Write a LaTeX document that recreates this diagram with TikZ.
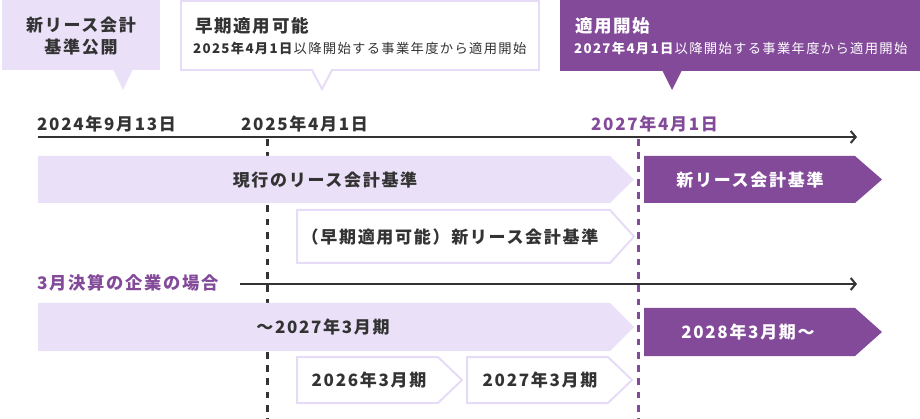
\documentclass[tikz,border=0pt]{standalone}
\usepackage{fontspec}
\setmainfont{Noto Sans CJK JP}[LetterSpace=10]
\usetikzlibrary{arrows.meta}
\definecolor{lightp}{HTML}{EAE1F8}
\definecolor{darkp}{HTML}{834A9A}
\definecolor{txt}{HTML}{333333}
\definecolor{edgep}{HTML}{E6DCF7}
\begin{document}
\begin{tikzpicture}[x=1pt,y=-1pt,
  lbl/.style={inner sep=0pt, text=txt, font=\bfseries\fontsize{17}{22}\selectfont},
  datelbl/.style={inner sep=0pt, anchor=west, text=txt, font=\bfseries\fontsize{17}{20}\selectfont},
  sublbl/.style={inner sep=0pt, anchor=west, text=txt, font=\fontsize{13.3}{16}\selectfont},
  titlelbl/.style={inner sep=0pt, anchor=west, text=txt, font=\bfseries\fontsize{17.5}{20}\selectfont},
  timeline/.style={draw=txt, line width=2pt, -{Straight Barb[length=5pt,width=12pt]}},
  blackdash/.style={draw=txt, line width=3pt, dash pattern=on 6.7pt off 6.6pt},
  purpledot/.style={draw=darkp, line width=3pt, dash pattern=on 6.7pt off 6.6pt},
  lightbar/.style={fill=lightp},
  darkbar/.style={fill=darkp},
  outbar/.style={fill=white, draw=edgep, line width=2pt},
]
\useasboundingbox (0,0) rectangle (920,419);

% ---- top callouts ----
\fill[lightp] (2,0) rectangle (160,70);
\fill[lightp] (113,69) -- (123,90) -- (133,69) -- cycle;
\node[lbl, align=center] (pub) at (81,36) {新リース会計\\基準公開};

\draw[edgep, line width=2pt, fill=white] (181,1) rectangle (539,70);
\draw[edgep, line width=2pt, fill=white] (312,70) -- (322,89) -- (332,70);
\fill[white] (313,68) rectangle (331,70.5);
\node[titlelbl] (early) at (195,26) {早期適用可能};
\node[sublbl] (earlysub) at (193,48) {\textbf{2025年4月1日}以降開始する事業年度から適用開始};

\fill[darkp] (560,0) rectangle (920,71);
\fill[darkp] (662,70) -- (672,90) -- (682,70) -- cycle;
\node[titlelbl, text=white] (start) at (575,26) {適用開始};
\node[sublbl, text=white] (startsub) at (574,48) {\textbf{2027年4月1日}以降開始する事業年度から適用開始};

% ---- dates and first timeline ----
\node[datelbl] (d1) at (37,124) {2024年9月13日};
\node[datelbl] (d2) at (241,124) {2025年4月1日};
\node[datelbl, text=darkp] (d3) at (591,124) {2027年4月1日};
\coordinate (t1a) at (38,137);
\coordinate (t1b) at (857,137);
\draw[timeline] (t1a) -- (t1b);

% ---- vertical markers ----
\coordinate (v1a) at (267,139);
\coordinate (v1b) at (267,419);
\coordinate (v2a) at (638,139);
\coordinate (v2b) at (638,419);
\draw[blackdash] (v1a) -- (v1b);
\draw[purpledot] (v2a) -- (v2b);

% ---- first group bars ----
\path[lightbar] (38,156) -- (610,156) -- (634,179.5) -- (610,203) -- (38,203) -- cycle;
\node[lbl] (cur) at (325,180) {現行のリース会計基準};
\path[darkbar] (644,156) -- (855,156) -- (882,179.5) -- (855,203) -- (644,203) -- cycle;
\node[lbl, text=white] (newstd) at (750,180) {新リース会計基準};
\path[outbar] (297,210) -- (610,210) -- (634,236.5) -- (610,263) -- (297,263) -- cycle;
\node[lbl] (earlystd) at (450,237) {（早期適用可能）新リース会計基準};

% ---- second timeline ----
\node[inner sep=0pt, anchor=west, text=darkp, font=\bfseries\fontsize{17.3}{20}\selectfont] (march) at (37,283) {3月決算の企業の場合};
\coordinate (t2a) at (240,284);
\coordinate (t2b) at (857,284);
\draw[timeline] (t2a) -- (t2b);

% ---- second group bars ----
\path[lightbar] (38,303) -- (610,303) -- (634,327) -- (610,351) -- (38,351) -- cycle;
\node[lbl] (upto) at (323,327) {～2027年3月期};
\path[darkbar] (644,308) -- (855,308) -- (882,332) -- (855,356) -- (644,356) -- cycle;
\node[lbl, text=white] (from) at (748,332) {2028年3月期～};
\path[outbar] (297,357) -- (438,357) -- (462,380) -- (438,403) -- (297,403) -- cycle;
\node[lbl] (y2026) at (369,380) {2026年3月期};
\path[outbar] (467,357) -- (608,357) -- (632,380) -- (608,403) -- (467,403) -- cycle;
\node[lbl] (y2027) at (540,380) {2027年3月期};
\end{tikzpicture}
\end{document}
